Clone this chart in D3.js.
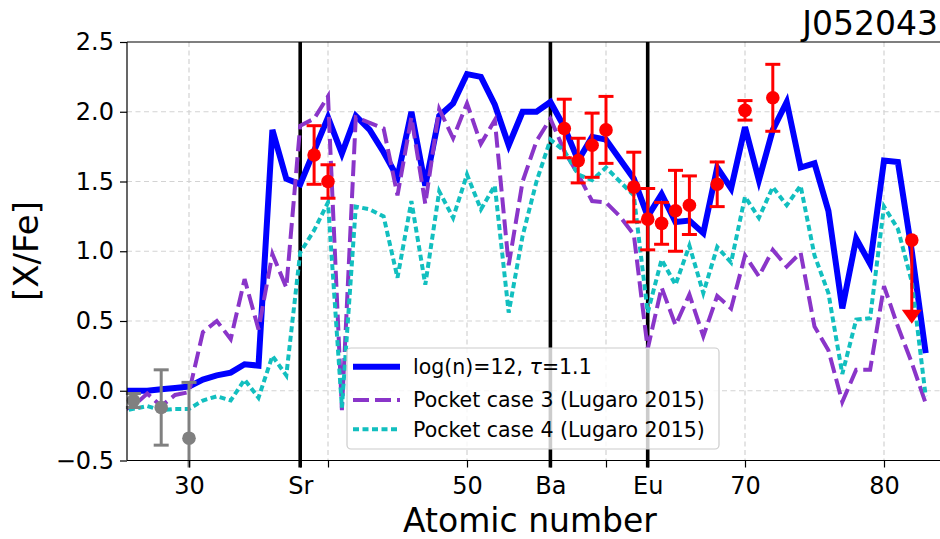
<!DOCTYPE html>
<html>
<head>
<meta charset="utf-8">
<script src="https://cdn.jsdelivr.net/npm/d3@7"></script>
<style>
  html, body { margin: 0; padding: 0; background: #fff; }
  svg { display: block; font-family: "DejaVu Sans", sans-serif; }
</style>
</head>
<body>
<svg id="chart" width="940" height="539"></svg>
<script>
// ---------- data ----------
const atomicNumbers = [25,26,27,28,29,30,31,32,33,34,35,36,37,38,39,40,41,42,43,44,45,46,47,48,49,50,51,52,53,54,55,56,57,58,59,60,61,62,63,64,65,66,67,68,69,70,71,72,73,74,75,76,77,78,79,80,81,82,83];
const modelLogN12 = [0.00,0.00,0.00,0.01,0.02,0.03,0.08,0.11,0.13,0.19,0.18,1.87,1.52,1.48,1.72,1.96,1.70,1.97,1.87,1.71,1.53,2.00,1.47,1.97,2.06,2.27,2.25,2.05,1.76,2.00,2.00,2.07,1.89,1.65,1.82,1.80,1.66,1.52,1.25,1.41,1.21,1.22,1.13,1.60,1.45,1.89,1.51,1.87,2.07,1.60,1.63,1.29,0.59,1.09,0.91,1.65,1.64,1.00,0.27];
const pocketCase3 = [-0.15,-0.11,-0.02,-0.11,-0.03,-0.01,0.42,0.50,0.37,0.80,0.44,0.98,0.74,1.90,1.95,2.11,-0.14,1.96,1.92,1.88,1.40,1.96,1.34,2.02,1.81,2.06,1.77,1.94,0.90,1.50,1.79,1.95,1.72,1.55,1.36,1.35,1.25,1.12,0.30,0.74,0.47,0.69,0.39,0.68,0.59,0.97,0.82,1.01,0.89,0.99,0.46,0.29,-0.08,0.15,0.15,0.75,0.46,0.20,-0.09];
const pocketCase4 = [-0.15,-0.13,-0.11,-0.14,-0.13,-0.13,-0.07,-0.04,-0.07,0.08,-0.05,0.25,0.11,0.99,1.15,1.35,-0.12,1.32,1.30,1.25,0.81,1.36,0.76,1.43,1.24,1.55,1.30,1.47,0.56,1.11,1.50,1.80,1.72,1.55,1.51,1.60,1.50,1.40,0.56,0.94,0.76,1.04,0.70,1.03,0.92,1.39,1.24,1.46,1.33,1.47,0.97,0.70,0.12,0.51,0.52,1.32,1.16,0.78,-0.04];

const obsZ   = [39,40,57,58,59,60,62,63,64,65,66,68,70,72];
const obsVal = [1.69,1.50,1.88,1.65,1.76,1.87,1.46,1.23,1.20,1.29,1.33,1.48,2.01,2.10];
const obsErr = [0.21,0.12,0.21,0.16,0.23,0.24,0.25,0.22,0.15,0.29,0.21,0.16,0.07,0.24];

const limZ = [82];
const limVal = [1.08];

const greyZ = [26,28,30];
const greyVal = [-0.07,-0.12,-0.34];
const greyErr = [0.05,0.27,0.40];

const markerZ = [38,56,63];           // Sr, Ba, Eu
const xTickValues = [30,38,40,50,56,60,63,70,80];
const xTickLabels = ["30","Sr","","50","Ba","","Eu","70","80"];
const xGridValues = [30,40,50,60,70,80];
const yTickValues = [-0.5,0,0.5,1,1.5,2,2.5];

const legendLabels = ["log(n)=12, ", "Pocket case 3 (Lugaro 2015)", "Pocket case 4 (Lugaro 2015)"];
const titleText = "J052043";

// ---------- layout ----------
const svg = d3.select("#chart");
const pLeft = 127, pTop = 42, pBottom = 460.5, pRight = 945;
const x = d3.scaleLinear().domain([30, 80]).range([189, 884]);
const y = d3.scaleLinear().domain([-0.5, 2.5]).range([pBottom, pTop]);

svg.append("defs").append("clipPath").attr("id", "plotclip")
  .append("rect").attr("x", pLeft).attr("y", pTop).attr("width", pRight - pLeft).attr("height", pBottom - pTop);

// grid
const grid = svg.append("g").attr("stroke", "#d3d3d3").attr("stroke-width", 1.2).attr("stroke-dasharray", "5,3.5");
grid.selectAll("line.gx").data(xGridValues).join("line")
  .attr("x1", d => x(d)).attr("x2", d => x(d)).attr("y1", pTop).attr("y2", pBottom);
grid.selectAll("line.gy").data(yTickValues.filter(v => v > -0.5 && v < 2.5)).join("line")
  .attr("x1", pLeft).attr("x2", pRight).attr("y1", d => y(d)).attr("y2", d => y(d));

// vertical element lines
svg.append("g").selectAll("line").data(markerZ).join("line")
  .attr("x1", d => x(d)).attr("x2", d => x(d)).attr("y1", pTop).attr("y2", pBottom + 7)
  .attr("stroke", "#000").attr("stroke-width", 3.6);

// model lines
const plot = svg.append("g").attr("clip-path", "url(#plotclip)");
const lineGen = vals => d3.line().x((d, i) => x(atomicNumbers[i])).y(d => y(d))(vals);
plot.append("path").attr("d", lineGen(modelLogN12)).attr("fill", "none")
  .attr("stroke", "#0000ff").attr("stroke-width", 6).attr("stroke-linejoin", "miter");
plot.append("path").attr("d", lineGen(pocketCase3)).attr("fill", "none")
  .attr("stroke", "#8a35c9").attr("stroke-width", 4).attr("stroke-dasharray", "16,6");
plot.append("path").attr("d", lineGen(pocketCase4)).attr("fill", "none")
  .attr("stroke", "#12bfbf").attr("stroke-width", 4).attr("stroke-dasharray", "6,3.5");

// grey observations
const gGrey = svg.append("g").attr("stroke", "#808080").attr("fill", "#808080");
greyZ.forEach((z, i) => {
  const lo = Math.max(greyVal[i] - greyErr[i], -0.5);
  const y2 = (greyVal[i] - greyErr[i] < -0.5) ? pBottom + 7 : y(lo);
  gGrey.append("line").attr("x1", x(z)).attr("x2", x(z)).attr("y1", y(greyVal[i] + greyErr[i])).attr("y2", y2).attr("stroke-width", 3);
  gGrey.append("line").attr("x1", x(z) - 7.5).attr("x2", x(z) + 7.5).attr("y1", y(greyVal[i] + greyErr[i])).attr("y2", y(greyVal[i] + greyErr[i])).attr("stroke-width", 3);
  if (greyVal[i] - greyErr[i] >= -0.5)
    gGrey.append("line").attr("x1", x(z) - 7.5).attr("x2", x(z) + 7.5).attr("y1", y(lo)).attr("y2", y(lo)).attr("stroke-width", 3);
  gGrey.append("circle").attr("cx", x(z)).attr("cy", y(greyVal[i])).attr("r", 6.8).attr("stroke", "none");
});

// red observations
const gRed = svg.append("g").attr("stroke", "#ff0000").attr("fill", "#ff0000");
obsZ.forEach((z, i) => {
  const hi = y(obsVal[i] + obsErr[i]), lo = y(obsVal[i] - obsErr[i]);
  gRed.append("line").attr("x1", x(z)).attr("x2", x(z)).attr("y1", hi).attr("y2", lo).attr("stroke-width", 3);
  gRed.append("line").attr("x1", x(z) - 7.5).attr("x2", x(z) + 7.5).attr("y1", hi).attr("y2", hi).attr("stroke-width", 3);
  gRed.append("line").attr("x1", x(z) - 7.5).attr("x2", x(z) + 7.5).attr("y1", lo).attr("y2", lo).attr("stroke-width", 3);
  gRed.append("circle").attr("cx", x(z)).attr("cy", y(obsVal[i])).attr("r", 6.8).attr("stroke", "none");
});
limZ.forEach((z, i) => {
  const tipY = y(limVal[i] - 0.6);
  gRed.append("line").attr("x1", x(z)).attr("x2", x(z)).attr("y1", y(limVal[i])).attr("y2", tipY - 8).attr("stroke-width", 3);
  gRed.append("path").attr("d", `M${x(z) - 10},${tipY - 14} L${x(z) + 10},${tipY - 14} L${x(z)},${tipY} Z`).attr("stroke", "none");
  gRed.append("circle").attr("cx", x(z)).attr("cy", y(limVal[i])).attr("r", 6.8).attr("stroke", "none");
});

// axes
const xAxis = d3.axisBottom(x).tickValues(xTickValues).tickFormat((d, i) => xTickLabels[i]).tickSize(7).tickPadding(5);
const gx = svg.append("g").attr("transform", `translate(0,${pBottom})`).call(xAxis);
const yAxis = d3.axisLeft(y).tickValues(yTickValues).tickFormat(d => d3.format(".1f")(d).replace("-", "\u2212")).tickSize(7).tickPadding(6);
const gy = svg.append("g").attr("transform", `translate(${pLeft},0)`).call(yAxis);
[gx, gy].forEach(g => {
  g.selectAll("text").attr("font-size", 24).attr("font-family", "DejaVu Sans").attr("fill", "#000");
  g.selectAll("line").attr("stroke", "#000").attr("stroke-width", 1.2);
  g.select(".domain").remove();
});
gx.selectAll("text").attr("dy", "0.9em");
// spines
svg.append("line").attr("x1", pLeft).attr("x2", pRight).attr("y1", pBottom).attr("y2", pBottom).attr("stroke", "#000").attr("stroke-width", 1.2);
svg.append("line").attr("x1", pLeft).attr("x2", pRight).attr("y1", pTop).attr("y2", pTop).attr("stroke", "#000").attr("stroke-width", 1.2);
svg.append("line").attr("x1", pLeft).attr("x2", pLeft).attr("y1", pTop).attr("y2", pBottom).attr("stroke", "#000").attr("stroke-width", 1.2);

// labels
svg.append("text").attr("x", 530).attr("y", 532).attr("text-anchor", "middle").attr("font-size", 33).text("Atomic number");
svg.append("text").attr("transform", "translate(38,251) rotate(-90)").attr("text-anchor", "middle").attr("font-size", 34).text("[X/Fe]");
svg.append("text").attr("x", 938).attr("y", 35).attr("text-anchor", "end").attr("font-size", 33).text(titleText);

// legend
const lg = svg.append("g");
lg.append("rect").attr("x", 347).attr("y", 348).attr("width", 372).attr("height", 101).attr("rx", 4)
  .attr("fill", "#fff").attr("fill-opacity", 0.8).attr("stroke", "#cccccc").attr("stroke-width", 1.2);
const rows = [
  {y: 366.7, stroke: "#0000ff", w: 6, dash: null},
  {y: 400, stroke: "#8a35c9", w: 4, dash: "16,6"},
  {y: 429.3, stroke: "#12bfbf", w: 4, dash: "6,3.5"}
];
rows.forEach((r, i) => {
  const ln = lg.append("line").attr("x1", 353).attr("x2", 400).attr("y1", r.y).attr("y2", r.y)
    .attr("stroke", r.stroke).attr("stroke-width", r.w);
  if (r.dash) ln.attr("stroke-dasharray", r.dash);
  const t = lg.append("text").attr("x", 413).attr("y", r.y + 7.2).attr("font-size", 20.5).attr("fill", "#000");
  t.append("tspan").text(legendLabels[i]);
  if (i === 0) {
    t.append("tspan").attr("font-style", "italic").text("\u03c4");
    t.append("tspan").text("=1.1");
  }
});
</script>
</body>
</html>
